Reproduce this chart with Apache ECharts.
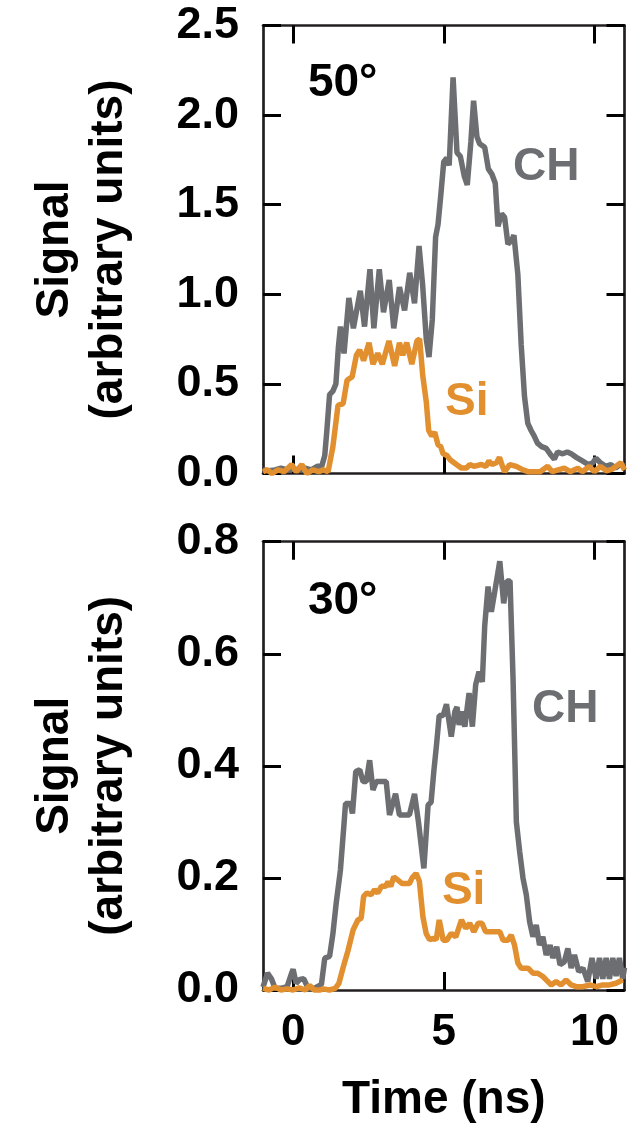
<!DOCTYPE html>
<html>
<head>
<meta charset="utf-8">
<script src="https://cdn.jsdelivr.net/npm/echarts@6/dist/echarts.min.js"></script>
<style>
html,body{margin:0;padding:0;background:#fff;}
#chart{width:630px;height:1125px;}
</style>
</head>
<body>
<div id="chart"></div>
<script>
// ---- Data (time in ns, signal in arbitrary units) ----
var xTicks = [0, 5, 10];
var yTicksTop = [0, 0.5, 1.0, 1.5, 2.0, 2.5];
var yTicksBottom = [0, 0.2, 0.4, 0.6, 0.8];

// 50° panel, CH
var ch50Time = [-1.0,-0.8,-0.6,-0.4,-0.2,0.0,0.2,0.4,0.6,0.8,0.95,1.05,1.12,1.21,1.32,1.42,1.50,1.57,1.69,1.85,2.0,2.23,2.37,2.55,2.68,2.86,3.0,3.19,3.34,3.53,3.70,3.87,4.03,4.18,4.30,4.42,4.51,4.62,4.73,4.81,4.90,5.0,5.1,5.18,5.31,5.44,5.55,5.68,5.78,5.90,5.99,6.10,6.19,6.36,6.48,6.6,6.71,6.80,6.92,7.02,7.13,7.25,7.33,7.46,7.57,7.68,7.79,7.9,8.0,8.11,8.25,8.4,8.57,8.67,8.78,8.95,9.1,9.23,9.4,9.6,9.8,9.95,10.05,10.2,10.38,10.55,10.7,10.85,11.0];
var ch50Val = [0.02,0.015,0.02,0.03,0.02,0.025,0.02,0.03,0.02,0.04,0.04,0.10,0.24,0.44,0.46,0.50,0.70,0.82,0.67,0.98,0.81,1.02,0.82,1.14,0.81,1.14,0.90,1.08,0.81,1.04,0.91,1.12,0.95,1.27,1.05,0.75,0.65,0.86,1.32,1.39,1.55,1.74,1.76,1.72,2.21,1.79,1.77,1.66,1.61,1.85,2.08,1.88,1.84,1.82,1.70,1.67,1.62,1.38,1.45,1.43,1.28,1.30,1.33,1.11,0.72,0.43,0.28,0.24,0.21,0.17,0.15,0.14,0.10,0.08,0.12,0.11,0.12,0.11,0.09,0.07,0.05,0.06,0.085,0.06,0.04,0.05,0.03,0.05,0.04];

// 50° panel, Si
var si50Time = [-1.0,-0.85,-0.7,-0.5,-0.3,-0.05,0.1,0.29,0.45,0.65,0.85,1.0,1.16,1.32,1.49,1.66,1.79,1.96,2.1,2.21,2.34,2.52,2.65,2.81,2.96,3.18,3.37,3.53,3.64,3.77,3.94,4.11,4.2,4.3,4.42,4.5,4.6,4.70,4.81,4.9,4.98,5.11,5.22,5.42,5.59,5.75,5.86,6.0,6.25,6.4,6.5,6.6,6.75,6.85,6.95,7.02,7.19,7.41,7.63,7.8,8.0,8.2,8.45,8.6,8.8,9.0,9.2,9.45,9.6,9.83,10.0,10.2,10.4,10.6,10.88,11.0];
var si50Val = [0.01,0.02,0.0,0.02,0.01,0.05,0.01,0.05,0.0,0.02,0.01,0.02,0.01,0.15,0.38,0.39,0.52,0.54,0.66,0.69,0.63,0.73,0.61,0.67,0.61,0.74,0.60,0.73,0.66,0.73,0.61,0.74,0.75,0.55,0.40,0.24,0.21,0.23,0.16,0.15,0.11,0.10,0.075,0.05,0.03,0.03,0.05,0.04,0.05,0.04,0.07,0.05,0.06,0.09,0.04,0.01,0.05,0.04,0.02,0.01,0.01,0.01,0.04,0.01,0.02,0.03,0.01,0.03,0.01,0.04,0.01,0.04,0.015,0.025,0.06,0.02];

// 30° panel, CH
var ch30Time = [-1.0,-0.85,-0.72,-0.6,-0.4,-0.2,-0.05,0.0,0.1,0.22,0.35,0.5,0.7,0.94,1.05,1.21,1.32,1.43,1.57,1.68,1.74,1.90,1.97,2.08,2.21,2.32,2.43,2.54,2.65,2.76,3.09,3.2,3.4,3.53,3.86,4.03,4.16,4.34,4.48,4.58,4.67,4.76,4.85,4.98,5.09,5.25,5.37,5.44,5.51,5.6,5.70,5.84,5.95,6.06,6.17,6.28,6.36,6.47,6.58,6.69,6.86,6.99,7.1,7.2,7.30,7.41,7.52,7.63,7.74,7.85,7.96,8.07,8.18,8.29,8.40,8.53,8.62,8.75,8.86,9.0,9.12,9.23,9.34,9.48,9.62,9.78,9.92,10.06,10.17,10.28,10.39,10.5,10.61,10.72,10.83,10.94,11.0];
var ch30Val = [0.005,0.03,0.02,0.003,0.003,0.006,0.03,0.037,0.012,0.019,0.02,0.003,0.003,0.01,0.057,0.06,0.10,0.155,0.214,0.29,0.333,0.333,0.315,0.39,0.393,0.372,0.372,0.41,0.357,0.372,0.372,0.3125,0.35,0.3125,0.3125,0.35,0.30,0.217,0.33,0.335,0.39,0.4375,0.49,0.49,0.51,0.452,0.497,0.505,0.473,0.497,0.47,0.53,0.47,0.545,0.568,0.55,0.65,0.72,0.675,0.71,0.765,0.69,0.73,0.73,0.556,0.30,0.247,0.20,0.17,0.122,0.095,0.116,0.08,0.095,0.0625,0.08,0.057,0.077,0.045,0.05,0.074,0.039,0.0625,0.033,0.039,0.015,0.057,0.02,0.057,0.02,0.057,0.02,0.057,0.025,0.057,0.02,0.04];

// 30° panel, Si
var si30Time = [-1.0,-0.8,-0.6,-0.4,-0.2,0.0,0.2,0.4,0.55,0.7,0.9,1.0,1.2,1.4,1.52,1.66,1.82,1.99,2.15,2.26,2.34,2.45,2.59,2.70,2.81,2.93,3.07,3.15,3.24,3.34,3.48,3.62,3.86,3.95,4.08,4.19,4.31,4.42,4.53,4.66,4.75,4.85,4.98,5.1,5.25,5.4,5.59,5.73,5.86,6.0,6.14,6.27,6.39,6.6,6.86,6.97,7.13,7.24,7.35,7.46,7.57,7.8,7.96,8.12,8.29,8.40,8.57,8.73,8.9,9.06,9.23,9.4,9.62,9.85,10.06,10.28,10.5,10.72,10.94];
var si30Val = [0.003,0.0,0.005,0.0,0.002,0.0,0.004,0.0,0.008,0.0,0.0,0.002,0.0,0.003,0.012,0.04,0.07,0.107,0.125,0.128,0.167,0.173,0.170,0.179,0.173,0.185,0.185,0.193,0.185,0.202,0.196,0.19,0.19,0.2,0.208,0.194,0.13,0.10,0.09,0.092,0.09,0.125,0.089,0.089,0.101,0.095,0.125,0.11,0.119,0.104,0.119,0.119,0.104,0.104,0.104,0.089,0.089,0.098,0.08,0.048,0.039,0.039,0.03,0.03,0.024,0.018,0.009,0.015,0.009,0.018,0.009,0.006,0.006,0.009,0.006,0.009,0.009,0.012,0.018];

// ---- Styling ----
var FONT = '"Liberation Sans", Arial, Helvetica, sans-serif';
var GRAY = '#6d6e71';
var ORANGE = '#e18f2f';
var INK = '#231f20';

function zip(t, v) { return t.map(function (x, i) { return [x, v[i]]; }); }

function xAxisDef(grid, pos, showLabel, name) {
  return {
    type: 'value', gridIndex: grid, position: pos, min: -1, max: 11,
    axisLine: { show: true, onZero: false, lineStyle: { color: INK, width: 2.7 } },
    axisTick: { show: true, inside: true, length: 18, lineStyle: { color: '#000', width: 3 }, customValues: xTicks },
    axisLabel: { show: showLabel, customValues: xTicks, margin: 21, color: '#000', fontFamily: FONT, fontWeight: 'bold', fontSize: 44, lineHeight: 44 },
    splitLine: { show: false },
    name: name || '', nameLocation: 'middle', nameGap: 87,
    nameTextStyle: { color: '#000', fontFamily: FONT, fontWeight: 'bold', fontSize: 46, lineHeight: 46 }
  };
}
function yAxisDef(grid, pos, max, ticks, showLabel, name) {
  return {
    type: 'value', gridIndex: grid, position: pos, min: 0, max: max, interval: ticks[1] - ticks[0],
    axisLine: { show: true, onZero: false, lineStyle: { color: INK, width: 2.7 } },
    axisTick: { show: true, inside: true, length: 18, lineStyle: { color: '#000', width: 3 } },
    axisLabel: { show: showLabel, margin: 24, color: '#000', fontFamily: FONT, fontWeight: 'bold', fontSize: 45,
      padding: [11, 0, 0, 0],
      formatter: function (v) { return v.toFixed(1); } },
    splitLine: { show: false },
    name: name || '', nameLocation: 'middle', nameRotate: 90, nameGap: 127,
    nameTextStyle: { color: '#000', fontFamily: FONT, fontWeight: 'bold', fontSize: 46, lineHeight: 54 }
  };
}
function lineSeries(name, data, color, xi, yi) {
  return { name: name, type: 'line', data: data, xAxisIndex: xi, yAxisIndex: yi,
    showSymbol: false, clip: false,
    lineStyle: { color: color, width: 5.5 },
    z: color === GRAY ? 2 : 3 };
}
function noteSeries(text, pos, color, xi, yi) {
  return { type: 'scatter', xAxisIndex: xi, yAxisIndex: yi, data: [pos], symbolSize: 0, silent: true, z: 5,
    itemStyle: { opacity: 1 },
    label: { show: true, position: 'right', distance: 0, formatter: text, color: color, opacity: 1,
      fontFamily: FONT, fontWeight: 'bold', fontSize: 46 } };
}

var chart = echarts.init(document.getElementById('chart'), null, { renderer: 'canvas' });
chart.setOption({
  animation: false,
  backgroundColor: '#fff',
  grid: [
    { left: 263, top: 25.5, width: 361.5, height: 448 },
    { left: 263, top: 541.7, width: 361.5, height: 448.3 }
  ],
  xAxis: [
    xAxisDef(0, 'bottom', false),
    xAxisDef(0, 'top', false),
    xAxisDef(1, 'bottom', true, 'Time (ns)'),
    xAxisDef(1, 'top', false)
  ],
  yAxis: [
    yAxisDef(0, 'left', 2.5, yTicksTop, true, 'Signal\n(arbitrary units)'),
    yAxisDef(0, 'right', 2.5, yTicksTop, false),
    yAxisDef(1, 'left', 0.8, yTicksBottom, true, 'Signal\n(arbitrary units)'),
    yAxisDef(1, 'right', 0.8, yTicksBottom, false)
  ],
  series: [
    lineSeries('CH 50°', zip(ch50Time, ch50Val), GRAY, 0, 0),
    lineSeries('Si 50°', zip(si50Time, si50Val), ORANGE, 0, 0),
    lineSeries('CH 30°', zip(ch30Time, ch30Val), GRAY, 2, 2),
    lineSeries('Si 30°', zip(si30Time, si30Val), ORANGE, 2, 2),
    noteSeries('50°', [0.49, 2.18], '#000', 0, 0),
    noteSeries('CH', [7.30, 1.71], GRAY, 0, 0),
    noteSeries('Si', [5.04, 0.396], ORANGE, 0, 0),
    noteSeries('30°', [0.49, 0.694], '#000', 2, 2),
    noteSeries('CH', [7.93, 0.501], GRAY, 2, 2),
    noteSeries('Si', [4.94, 0.176], ORANGE, 2, 2)
  ]
});
</script>
</body>
</html>
